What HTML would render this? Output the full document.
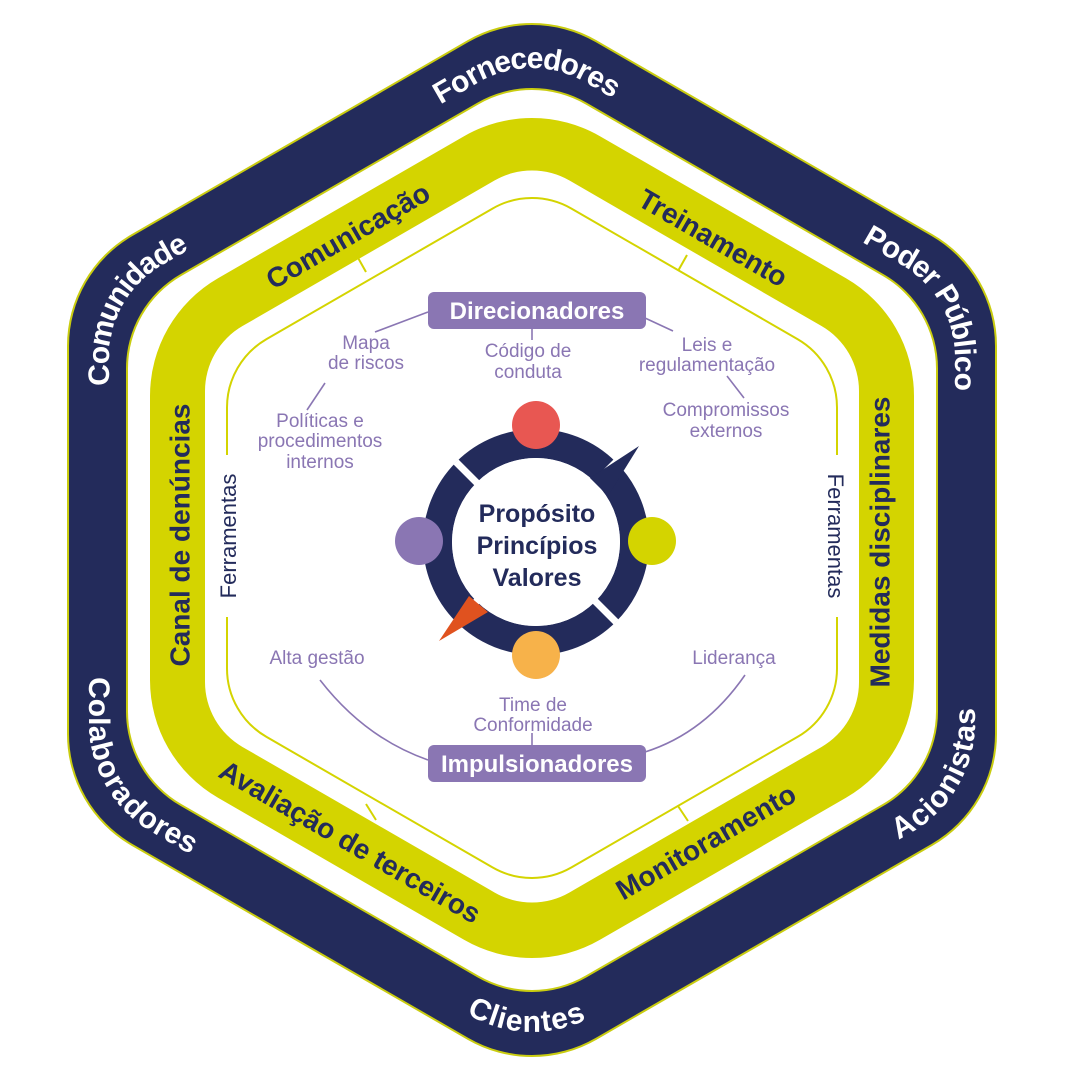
<!DOCTYPE html>
<html><head><meta charset="utf-8"><style>
html,body{margin:0;padding:0;background:#fff;}
svg{display:block;}
text{font-family:"Liberation Sans",sans-serif;}
</style></head><body>
<svg width="1080" height="1080" viewBox="0 0 1080 1080" xmlns="http://www.w3.org/2000/svg">
<defs>
<path id="cw" d="M99,540 L99,357.5 A117 117 0 0 1 157.5,256.2 L473.5,73.8 A117 117 0 0 1 590.5,73.8 L906.5,256.2 A117 117 0 0 1 965,357.5 L965,722.5 A117 117 0 0 1 906.5,823.8 L590.5,1006.2 A117 117 0 0 1 473.5,1006.2 L157.5,823.8 A117 117 0 0 1 99,722.5 Z"/>
<path id="ccw" d="M99,540 L99,722.5 A117 117 0 0 0 157.5,823.8 L473.5,1006.2 A117 117 0 0 0 590.5,1006.2 L906.5,823.8 A117 117 0 0 0 965,722.5 L965,357.5 A117 117 0 0 0 906.5,256.2 L590.5,73.8 A117 117 0 0 0 473.5,73.8 L157.5,256.2 A117 117 0 0 0 99,357.5 Z"/>
</defs>
<polygon points="532,152 868,346 868,734 532,928 196,734 196,346" fill="#c9cc10" stroke="#c9cc10" stroke-width="258" stroke-linejoin="round"/>
<polygon points="532,152 868,346 868,734 532,928 196,734 196,346" fill="#232b5b" stroke="#232b5b" stroke-width="254" stroke-linejoin="round"/>
<polygon points="532,197 829,368.5 829,711.5 532,883 235,711.5 235,368.5" fill="#c9cc10" stroke="#c9cc10" stroke-width="218" stroke-linejoin="round"/>
<polygon points="532,197 829,368.5 829,711.5 532,883 235,711.5 235,368.5" fill="#fff" stroke="#fff" stroke-width="214" stroke-linejoin="round"/>
<polygon points="532,254 778,396 778,680 532,822 286,680 286,396" fill="#d4d400" stroke="#d4d400" stroke-width="272" stroke-linejoin="round"/>
<polygon points="532,245.5 784,391 784,682 532,827.5 280,682 280,391" fill="#fff" stroke="#fff" stroke-width="150" stroke-linejoin="round"/>
<path d="M492.5,208.6 A79 79 0 0 1 571.5,208.6 L797.5,339.1 A79 79 0 0 1 837,407.5 L837,668.5 A79 79 0 0 1 797.5,736.9 L571.5,867.4 A79 79 0 0 1 492.5,867.4 L266.5,736.9 A79 79 0 0 1 227,668.5 L227,407.5 A79 79 0 0 1 266.5,339.1 Z" fill="none" stroke="#d4d400" stroke-width="2"/>
<g stroke="#d4d400" stroke-width="2">
<line x1="357" y1="256" x2="366" y2="272"/>
<line x1="687" y1="255" x2="678" y2="271"/>
<line x1="366" y1="804" x2="376" y2="820"/>
<line x1="678" y1="806" x2="688" y2="821"/>
</g>
<rect x="213" y="455" width="30" height="162" fill="#fff"/>
<rect x="821" y="455" width="30" height="162" fill="#fff"/>
<text transform="translate(236,536) rotate(-90)" text-anchor="middle" font-size="22" fill="#232b5b">Ferramentas</text>
<text transform="translate(828,536) rotate(90)" text-anchor="middle" font-size="22" fill="#232b5b">Ferramentas</text>

<g font-size="30" font-weight="bold" fill="#fff" dominant-baseline="central">
<text><textPath href="#cw" startOffset="725" text-anchor="middle">Fornecedores</textPath></text>
<text><textPath href="#cw" startOffset="1212" text-anchor="middle">Poder Público</textPath></text>
<text><textPath href="#cw" startOffset="245" text-anchor="middle">Comunidade</textPath></text>
<text><textPath href="#ccw" startOffset="725" text-anchor="middle">Clientes</textPath></text>
<text><textPath href="#ccw" startOffset="1218" text-anchor="middle">Acionistas</textPath></text>
<text><textPath href="#ccw" startOffset="243" text-anchor="middle">Colaboradores</textPath></text>
</g>
<g font-size="28" font-weight="bold" fill="#232b5b" text-anchor="middle" dominant-baseline="central">
<text transform="translate(348,236) rotate(-30)">Comunicação</text>
<text transform="translate(713,238) rotate(30)">Treinamento</text>
<text transform="translate(880,542) rotate(-90)">Medidas disciplinares</text>
<text transform="translate(180,535) rotate(-90)">Canal de denúncias</text>
<text transform="translate(350,842) rotate(30)">Avaliação de terceiros</text>
<text transform="translate(706,842) rotate(-30)">Monitoramento</text>
</g>

<g stroke="#8a76b3" stroke-width="1.6" fill="none">
<line x1="428" y1="312" x2="375" y2="332"/>
<line x1="325" y1="383" x2="307" y2="410"/>
<line x1="645" y1="318" x2="673" y2="331"/>
<line x1="727" y1="376" x2="744" y2="398"/>
<line x1="532" y1="328" x2="532" y2="340"/>
<line x1="532" y1="733" x2="532" y2="746"/>
<path d="M320,680 Q365,738 428,760"/>
<path d="M745,675 Q705,733 645,752"/>
</g>
<rect x="428" y="292" width="218" height="37" rx="6" fill="#8a76b3"/>
<text x="537" y="319" text-anchor="middle" font-size="24" font-weight="bold" fill="#fff">Direcionadores</text>
<rect x="428" y="745" width="218" height="37" rx="6" fill="#8a76b3"/>
<text x="537" y="772" text-anchor="middle" font-size="24" font-weight="bold" fill="#fff">Impulsionadores</text>

<g font-size="19" fill="#8a76b3" text-anchor="middle">
<text x="366" y="349">Mapa</text><text x="366" y="369">de riscos</text>
<text x="528" y="357">Código de</text><text x="528" y="378">conduta</text>
<text x="707" y="351">Leis e</text><text x="707" y="371">regulamentação</text>
<text x="320" y="427">Políticas e</text><text x="320" y="447">procedimentos</text><text x="320" y="468">internos</text>
<text x="726" y="416">Compromissos</text><text x="726" y="437">externos</text>
<text x="317" y="664">Alta gestão</text>
<text x="734" y="664">Liderança</text>
<text x="533" y="711">Time de</text><text x="533" y="731">Conformidade</text>
</g>

<circle cx="536" cy="542" r="98.5" fill="none" stroke="#232b5b" stroke-width="29"/>
<g stroke="#fff" stroke-width="7">
<line x1="536" y1="542" x2="456" y2="462"/>
<line x1="536" y1="542" x2="616" y2="462"/>
<line x1="536" y1="542" x2="456" y2="622"/>
<line x1="536" y1="542" x2="616" y2="622"/>
</g>
<circle cx="536" cy="542" r="84" fill="#fff"/>
<polygon points="590,478 639,446 608,496" fill="#232b5b"/>
<polygon points="469,596 488,612 439,641" fill="#e0521f"/>
<circle cx="536" cy="425" r="24" fill="#e85752"/>
<circle cx="652" cy="541" r="24" fill="#d4d400"/>
<circle cx="536" cy="655" r="24" fill="#f7b24a"/>
<circle cx="419" cy="541" r="24" fill="#8a76b3"/>
<g font-size="25" font-weight="bold" fill="#232b5b" text-anchor="middle">
<text x="537" y="522">Propósito</text>
<text x="537" y="554">Princípios</text>
<text x="537" y="586">Valores</text>
</g>
</svg>
</body></html>
